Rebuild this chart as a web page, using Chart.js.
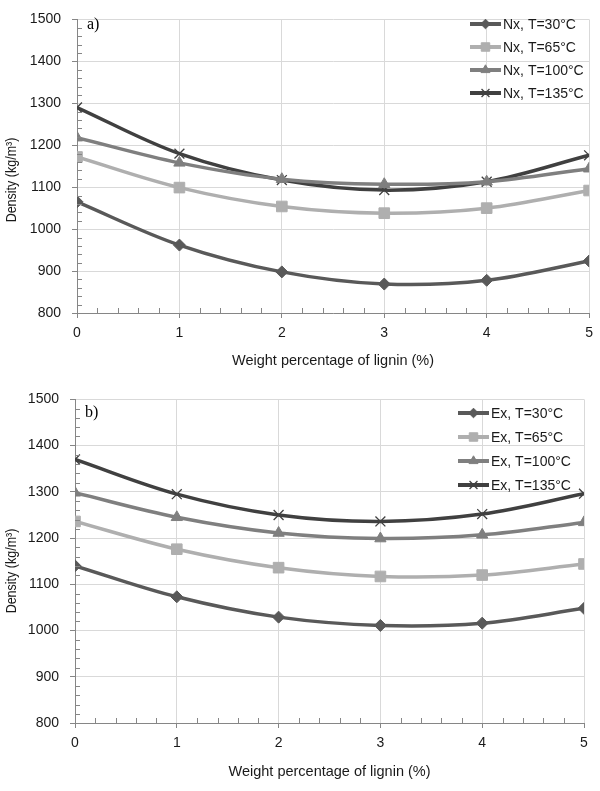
<!DOCTYPE html>
<html>
<head>
<meta charset="utf-8">
<script src="https://cdn.jsdelivr.net/npm/chart.js@4/dist/chart.umd.min.js"></script>
<style>
  body { margin: 0; background: #fff; }
  canvas { display: block; }
</style>
</head>
<body>
<canvas id="chartA" width="600" height="380"></canvas>
<canvas id="chartB" width="600" height="411"></canvas>
<script>
// lignin weight percentage (x) and densities (kg/m3)
const lignin = [0, 1, 2, 3, 4, 5];

const nx30 = [1065, 962, 898, 869, 878, 924];
const nx65 = [1172, 1099, 1054, 1038, 1050, 1092];
const nx100 = [1218, 1158, 1119, 1107, 1113, 1144];
const nx135 = [1290, 1180, 1117, 1093, 1113, 1176];

const ex30 = [1140, 1073, 1029, 1011, 1016, 1048];
const ex65 = [1236, 1176, 1136, 1117, 1120, 1144];
const ex100 = [1298, 1245, 1211, 1199, 1207, 1234];
const ex135 = [1370, 1295, 1250, 1236, 1252, 1296];

const temps = ["30", "65", "100", "135"];
const colors = ["#595959", "#afafaf", "#7f7f7f", "#404040"];
const styles = ["rectRot", "rect", "triangle", "crossRot"];
const radii = [6, 7.5, 6.5, 7];

Chart.defaults.font.family = '"Liberation Sans", Arial, sans-serif';
Chart.defaults.color = "#1a1a1a";

// minor ticks, y title, panel letter and the in-plot legend
const decoPlugin = {
  id: "deco",
  afterDraw(chart, args, opts) {
    const ctx = chart.ctx;
    const xs = chart.scales.x;
    const ys = chart.scales.y;
    ctx.save();
    ctx.strokeStyle = "#868686";
    ctx.lineWidth = 1;
    ctx.beginPath();
    for (let v = 820; v < 1500; v += 20) {
      if (v % 100 === 0) continue;
      const py = Math.round(ys.getPixelForValue(v)) + 0.5;
      ctx.moveTo(xs.left, py);
      ctx.lineTo(xs.left + 5, py);
    }
    for (let i = 1; i < 25; i++) {
      if (i % 5 === 0) continue;
      const px = Math.round(xs.getPixelForValue(i / 5)) + 0.5;
      ctx.moveTo(px, ys.bottom);
      ctx.lineTo(px, ys.bottom - 5);
    }
    ctx.stroke();

    // y axis title sits a bit below the middle in the original
    ctx.save();
    ctx.translate(opts.titleX, opts.titleY);
    ctx.scale(1.15, 1);
    ctx.rotate(-Math.PI / 2);
    ctx.fillStyle = "#1a1a1a";
    ctx.font = '12.5px "Liberation Sans"';
    ctx.textAlign = "center";
    ctx.textBaseline = "middle";
    ctx.fillText("Density (kg/m³)", 0, 0);
    ctx.restore();

    ctx.fillStyle = "#000";
    ctx.textBaseline = "middle";
    ctx.font = '16px "Liberation Serif"';
    ctx.fillText(opts.label, xs.left + 10, opts.labelY);

    chart.data.datasets.forEach((ds, i) => {
      const ly = opts.legendY + i * opts.legendGap;
      const lx = opts.legendX;
      ctx.strokeStyle = ds.borderColor;
      ctx.lineWidth = 4;
      ctx.beginPath();
      ctx.moveTo(lx, ly);
      ctx.lineTo(lx + 31, ly);
      ctx.stroke();
      ctx.fillStyle = ds.borderColor;
      ctx.lineWidth = ds.pointStyle === "crossRot" ? 1.3 : 1;
      Chart.helpers.drawPoint(ctx, {
        pointStyle: ds.pointStyle,
        radius: ds.pointRadius * 0.8,
        borderWidth: 1,
      }, lx + 15.5, ly);
      ctx.fillStyle = "#1a1a1a";
      ctx.font = '14px "Liberation Sans"';
      ctx.fillText(ds.label, lx + 33, ly + 1);
    });
    ctx.restore();
  },
};

function makeSets(prefix, series) {
  return series.map((vals, i) => ({
    label: prefix + ", T=" + temps[i] + "°C",
    data: lignin.map((x, j) => ({ x: x, y: vals[j] })),
    borderColor: colors[i],
    backgroundColor: colors[i],
    borderWidth: 3.5,
    tension: 0.35,
    pointStyle: styles[i],
    pointRadius: radii[i],
    pointBorderWidth: styles[i] === "crossRot" ? 1.3 : 1,
  }));
}

function buildChart(id, sets, box) {
  const ctx = document.getElementById(id).getContext("2d");
  new Chart(ctx, {
    type: "line",
    data: { datasets: sets },
    plugins: [decoPlugin],
    options: {
      responsive: false,
      animation: false,
      layout: { padding: box.padding },
      scales: {
        x: {
          type: "linear",
          min: 0,
          max: 5,
          afterFit: (s) => { s.height = box.xHeight; },
          ticks: { stepSize: 1, padding: 7, font: { size: 14 }, callback: (v) => String(v) },
          grid: { color: "#d9d9d9", tickLength: 5, tickColor: "#868686" },
          border: { color: "#868686" },
          title: {
            display: true,
            text: "Weight percentage of lignin (%)",
            font: { size: 14.5 },
            padding: { bottom: 10 },
          },
        },
        y: {
          min: 800,
          max: 1500,
          afterFit: (s) => { s.width = box.yWidth; },
          ticks: { stepSize: 100, padding: 11, font: { size: 14 }, callback: (v) => String(v) },
          grid: { color: "#d9d9d9", tickLength: 5, tickColor: "#868686" },
          border: { color: "#868686" },
        },
      },
      plugins: {
        legend: { display: false },
        tooltip: { enabled: false },
        deco: box.deco,
      },
    },
  });
}

buildChart("chartA", makeSets("Nx", [nx30, nx65, nx100, nx135]), {
  padding: { top: 0.6, right: 8, left: 0, bottom: 0 },
  xHeight: 67,
  yWidth: 77,
  deco: { label: "a)", labelY: 25, legendX: 470, legendY: 24, legendGap: 23, titleX: 12.5, titleY: 180 },
});

buildChart("chartB", makeSets("Ex", [ex30, ex65, ex100, ex135]), {
  padding: { top: 5.6, right: 16, left: 0, bottom: 0 },
  xHeight: 68,
  yWidth: 75,
  deco: { label: "b)", labelY: 33, legendX: 458, legendY: 33, legendGap: 24, titleX: 12, titleY: 191 },
});
</script>
</body>
</html>
